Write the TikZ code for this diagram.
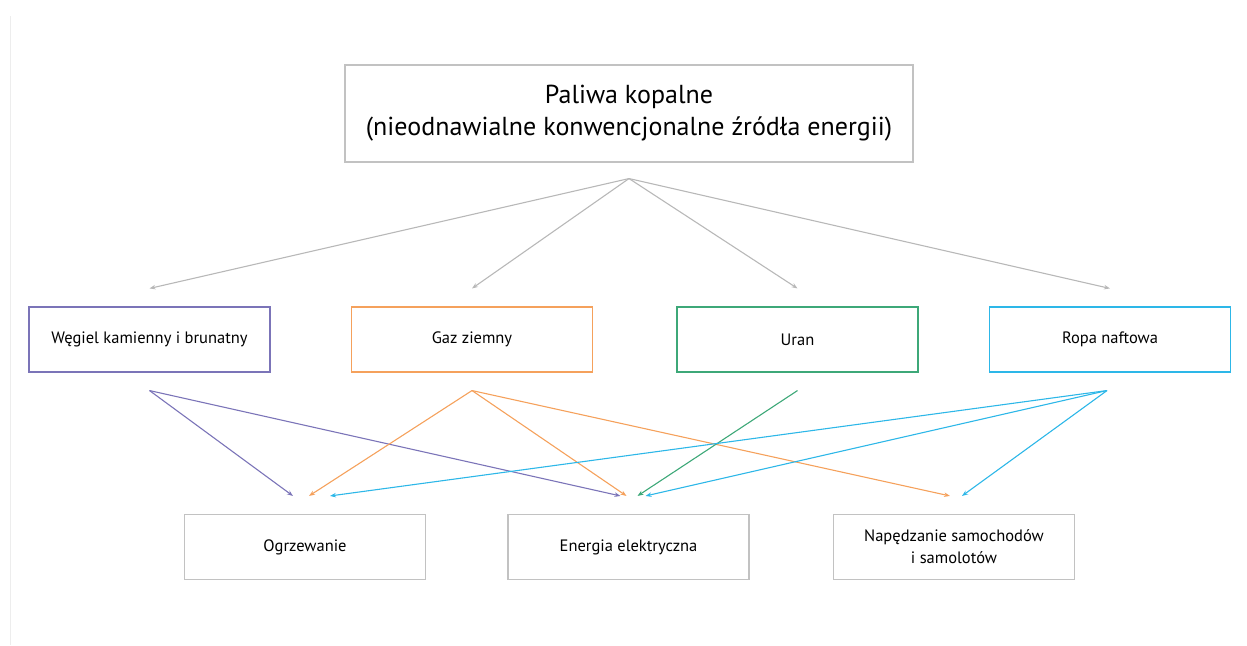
\documentclass[tikz,border=0pt]{standalone}
\usepackage{fontspec}
\setmainfont{PT Sans}
\usepackage{tikz}
\usetikzlibrary{arrows.meta}

\definecolor{framegray}{HTML}{EDEDED}
\definecolor{boxgray}{HTML}{C2C2C2}
\definecolor{arrowgray}{HTML}{B8B8B8}
\definecolor{coalcol}{HTML}{7B74B8}
\definecolor{gascol}{HTML}{F5A15C}
\definecolor{urancol}{HTML}{3DA878}
\definecolor{oilcol}{HTML}{2DB7E8}

\begin{document}
\begin{tikzpicture}[x=1pt,y=-1pt,
	box/.style={draw=#1,line width=1.1pt,minimum width=241pt,minimum height=65pt,
		inner sep=0pt,align=center,font=\fontsize{16.5}{22}\selectfont},
	link/.style={draw=#1,line width=1.1pt,-{Stealth[length=6pt,width=4.5pt]}}]
	\useasboundingbox (0,0) rectangle (1247,645);
	\draw[framegray,line width=1pt] (10,16) -- (10,645);

	% top
	\node[box=boxgray,minimum width=568pt,minimum height=97pt,
		font=\fontsize{26}{32}\selectfont] (fossil) at (629,113.5)
		{Paliwa kopalne\\(nieodnawialne konwencjonalne źródła energii)};

	% sources
	\node[box=coalcol] (wegiel) at (149.5,339.5) {Węgiel kamienny i brunatny};
	\node[box=gascol] (gaz) at (472,339.5) {Gaz ziemny};
	\node[box=urancol] (uran) at (797.5,339.5) {Uran};
	\node[box=oilcol] (ropa) at (1110,339.5) {Ropa naftowa};

	% uses
	\node[box=boxgray] (ogrz) at (305,547) {Ogrzewanie};
	\node[box=boxgray] (energ) at (628.5,547) {Energia elektryczna};
	\node[box=boxgray] (naped) at (954,547) {Napędzanie samochodów\\i samolotów};

	\coordinate (fossil-out) at ([yshift=-16pt]fossil.south);
	\foreach \n in {wegiel,gaz,uran,ropa}
		\draw[link=arrowgray] (fossil-out) -- ([yshift=18pt]\n.north);

	\coordinate (wegiel-out) at ([yshift=-18pt]wegiel.south);
	\coordinate (gaz-out) at ([yshift=-18pt]gaz.south);
	\coordinate (uran-out) at ([yshift=-18pt]uran.south);
	\coordinate (ropa-out) at ([xshift=-3pt,yshift=-18pt]ropa.south);

	\coordinate (ogrz-a) at ([xshift=-12pt,yshift=18pt]ogrz.north);
	\coordinate (ogrz-b) at ([xshift=4pt,yshift=18pt]ogrz.north);
	\coordinate (ogrz-c) at ([xshift=25pt,yshift=18pt]ogrz.north);
	\coordinate (energ-a) at ([xshift=-8pt,yshift=18pt]energ.north);
	\coordinate (energ-b) at ([xshift=-2pt,yshift=18pt]energ.north);
	\coordinate (energ-c) at ([xshift=9pt,yshift=18pt]energ.north);
	\coordinate (energ-d) at ([xshift=17pt,yshift=18pt]energ.north);
	\coordinate (naped-a) at ([xshift=-4pt,yshift=18pt]naped.north);
	\coordinate (naped-b) at ([xshift=8pt,yshift=18pt]naped.north);

	\draw[link=coalcol] (wegiel-out) -- (ogrz-a);
	\draw[link=coalcol] (wegiel-out) -- (energ-a);
	\draw[link=gascol] (gaz-out) -- (ogrz-b);
	\draw[link=gascol] (gaz-out) -- (energ-b);
	\draw[link=gascol] (gaz-out) -- (naped-a);
	\draw[link=urancol] (uran-out) -- (energ-c);
	\draw[link=oilcol] (ropa-out) -- (ogrz-c);
	\draw[link=oilcol] (ropa-out) -- (energ-d);
	\draw[link=oilcol] (ropa-out) -- (naped-b);
\end{tikzpicture}
\end{document}
